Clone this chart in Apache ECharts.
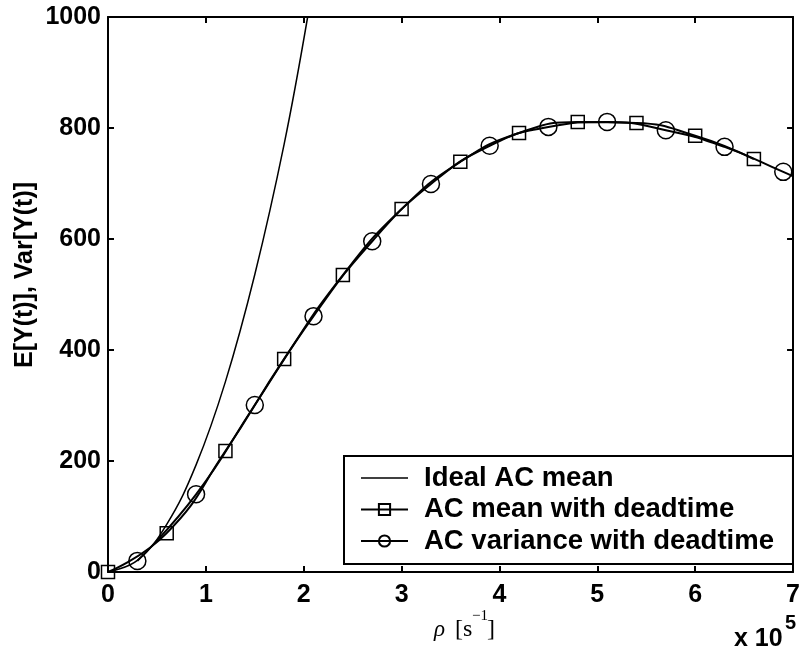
<!DOCTYPE html>
<html><head><meta charset="utf-8">
<script src="https://cdn.jsdelivr.net/npm/echarts@6/dist/echarts.min.js"></script>
<style>html,body{margin:0;padding:0;background:#fff}#c{width:803px;height:652px}</style>
</head><body><div id="c"></div>
<script>
// x in units of 1e5 s^-1
const idealX = [0, 0.3, 0.6, 0.9, 1.2, 1.5, 1.8, 2.04];
const idealY = [0, 21, 86, 193, 343, 536, 771, 1000];
const meanX = [0, 0.6, 1.2, 1.8, 2.4, 3.0, 3.6, 4.2, 4.8, 5.4, 6.0, 6.6];
const meanY = [0, 70, 218, 384, 535, 654, 739, 791, 811, 809, 786, 744];
const varX = [0.3, 0.9, 1.5, 2.1, 2.7, 3.3, 3.9, 4.5, 5.1, 5.7, 6.3, 6.9, 7.0];
const varY = [20, 140, 301, 461, 596, 699, 768, 802, 811, 796, 766, 721, 713];
const xTicks = [0, 1, 2, 3, 4, 5, 6, 7];
const yTicks = [0, 200, 400, 600, 800, 1000];
const names = ['Ideal AC mean', 'AC mean with deadtime', 'AC variance with deadtime'];

const font = '"Liberation Sans", Arial, sans-serif';
const serif = '"Liberation Serif", "DejaVu Serif", serif';
const chart = echarts.init(document.getElementById('c'));
const pair = (xs, ys) => xs.map((x, i) => [x, ys[i]]);
const axisCommon = () => ({
  axisLine: {show: true, onZero: false, lineStyle: {color: '#000', width: 2}},
  axisTick: {show: true, inside: true, length: 6, lineStyle: {color: '#000', width: 2}},
  splitLine: {show: false}
});
const varData = pair(varX, varY).map((p, i) => i === varX.length - 1 ? {value: p, symbol: 'none'} : p);
chart.setOption({
  animation: false,
  backgroundColor: '#fff',
  grid: {left: 108, right: 5, top: 17, bottom: 80, show: false},
  xAxis: [
    Object.assign(axisCommon(), {type: 'value', min: 0, max: 7, interval: 1, position: 'bottom',
      axisLabel: {color: '#000', fontFamily: font, fontWeight: 'bold', fontSize: 25, margin: 11,
        formatter: v => xTicks.includes(v) ? String(v) : ''}}),
    Object.assign(axisCommon(), {type: 'value', min: 0, max: 7, interval: 1, position: 'top', axisLabel: {show: false}})
  ],
  yAxis: [
    Object.assign(axisCommon(), {type: 'value', min: 0, max: 1000, interval: 200, position: 'left',
      axisLabel: {color: '#000', fontFamily: font, fontWeight: 'bold', fontSize: 25, margin: 7,
        formatter: v => yTicks.includes(v) ? String(v) : ''}}),
    Object.assign(axisCommon(), {type: 'value', min: 0, max: 1000, interval: 200, position: 'right', axisLabel: {show: false}})
  ],
  legend: {
    orient: 'vertical', left: 344, top: 456,
    data: [{name: names[0], icon: 'path://M0,0L48,0L48,1.5L0,1.5Z'}, names[1], names[2]],
    backgroundColor: '#fff', borderColor: '#000', borderWidth: 2,
    padding: [8, 19, 9, 16], itemGap: 3.5, itemWidth: 47, itemHeight: 14,
    textStyle: {color: '#000', fontFamily: font, fontWeight: 'bold', fontSize: 27.5, padding: [0, 0, 0, 11]}
  },
  series: [
    {name: names[0], type: 'line', smooth: 0.4, symbol: 'none', data: pair(idealX, idealY),
      lineStyle: {color: '#000', width: 1.5}, itemStyle: {color: '#000'}},
    {name: names[1], type: 'line', smooth: true, symbol: 'rect', symbolSize: 13, data: pair(meanX, meanY),
      lineStyle: {color: '#000', width: 2}, itemStyle: {color: 'rgba(255,255,255,0)', borderColor: '#000', borderWidth: 1.5}, z: 3},
    {name: names[2], type: 'line', smooth: true, symbol: 'circle', symbolSize: 17, data: varData,
      lineStyle: {color: '#000', width: 2}, itemStyle: {color: 'rgba(255,255,255,0)', borderColor: '#000', borderWidth: 1.5}, z: 3}
  ],
  graphic: [
    {type: 'text', x: 25, y: 275, rotation: Math.PI / 2, style: {
      text: 'E[Y(t)], Var[Y(t)]', fill: '#000', font: 'bold 25px ' + font, textAlign: 'center', textVerticalAlign: 'middle'}},
    {type: 'text', x: 434, y: 630, style: {text: 'ρ', fill: '#000', font: 'italic 23px ' + serif, textVerticalAlign: 'middle'}},
    {type: 'text', x: 455, y: 630, style: {text: '[s', fill: '#000', font: '24px ' + serif, textVerticalAlign: 'middle'}},
    {type: 'text', x: 472, y: 616, style: {text: '−1', fill: '#000', font: '15px ' + serif, textVerticalAlign: 'middle'}},
    {type: 'text', x: 487, y: 630, style: {text: ']', fill: '#000', font: '24px ' + serif, textVerticalAlign: 'middle'}},
    {type: 'text', x: 734, y: 639, style: {text: 'x 10', fill: '#000', font: 'bold 25px ' + font, textVerticalAlign: 'middle'}},
    {type: 'text', x: 785, y: 623, style: {text: '5', fill: '#000', font: 'bold 20px ' + font, textVerticalAlign: 'middle'}}
  ]
});
</script></body></html>
